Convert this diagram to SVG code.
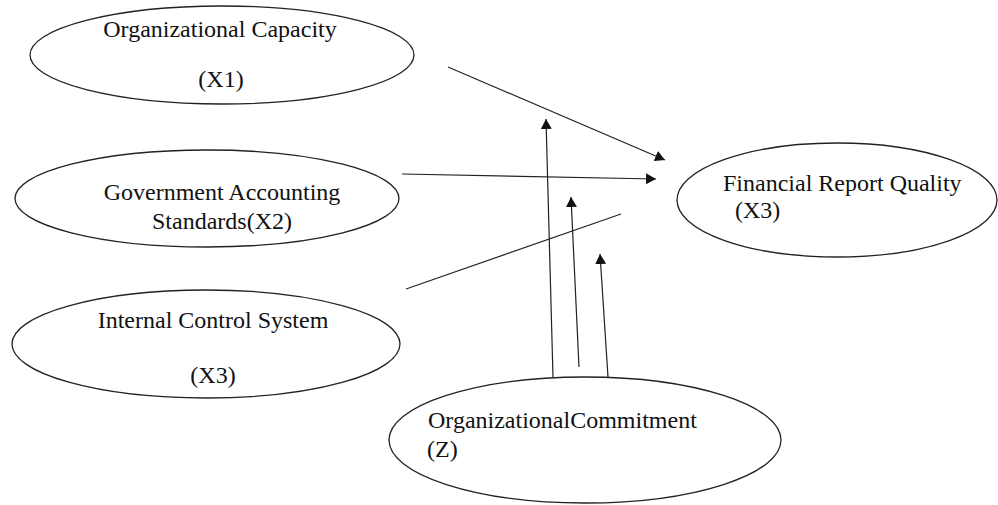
<svg xmlns="http://www.w3.org/2000/svg" width="998" height="505" viewBox="0 0 998 505">
<style>
.n{fill:#fff;stroke:#222;stroke-width:1.3}
.t{font-family:"Liberation Serif","Times New Roman",serif;font-size:24px;fill:#111}
.c{stroke:#222;stroke-width:1.2;fill:none}
</style>
<defs>
<marker id="ah" viewBox="0 0 10 11" refX="10" refY="5.5" markerWidth="10" markerHeight="11" markerUnits="userSpaceOnUse" orient="auto">
<path d="M0,0 L10,5.5 L0,11 Z" fill="#111"/>
</marker>
</defs>
<rect width="998" height="505" fill="#fff"/>
<g id="x1">
<ellipse class="n" cx="222" cy="55" rx="192" ry="49"/>
<text class="t" x="220" y="37" text-anchor="middle">Organizational Capacity</text>
<text class="t" x="221" y="87" text-anchor="middle">(X1)</text>
</g>
<g id="x2">
<ellipse class="n" cx="207" cy="198.5" rx="192" ry="48.5"/>
<text class="t" x="222" y="200" text-anchor="middle">Government Accounting</text>
<text class="t" x="222" y="229" text-anchor="middle">Standards(X2)</text>
</g>
<g id="x3">
<ellipse class="n" cx="206" cy="344" rx="194" ry="54"/>
<text class="t" x="213" y="328" text-anchor="middle">Internal Control System</text>
<text class="t" x="213" y="383" text-anchor="middle">(X3)</text>
</g>
<g id="frq">
<ellipse class="n" cx="837" cy="200" rx="160" ry="57"/>
<text class="t" x="723" y="191">Financial Report Quality</text>
<text class="t" x="735" y="218">(X3)</text>
</g>
<g id="z">
<ellipse class="n" cx="585" cy="440" rx="196" ry="63"/>
<text class="t" x="428" y="428">OrganizationalCommitment</text>
<text class="t" x="427" y="457">(Z)</text>
</g>
<g id="connectors">
<line class="c" x1="448" y1="67" x2="665" y2="160" marker-end="url(#ah)"/>
<line class="c" x1="402" y1="174" x2="656" y2="179" marker-end="url(#ah)"/>
<line class="c" x1="406" y1="289" x2="621" y2="214"/>
<line class="c" x1="553" y1="377" x2="546" y2="119" marker-end="url(#ah)"/>
<line class="c" x1="579" y1="367" x2="571" y2="197" marker-end="url(#ah)"/>
<line class="c" x1="608" y1="377" x2="600" y2="254" marker-end="url(#ah)"/>
</g>
</svg>
